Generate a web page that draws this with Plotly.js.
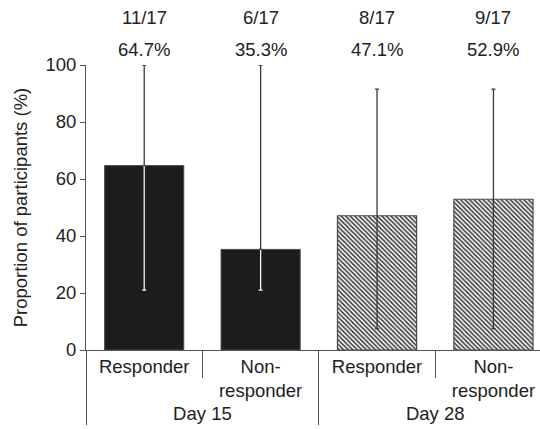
<!DOCTYPE html>
<html>
<head>
<meta charset="utf-8">
<script src="https://cdn.plot.ly/plotly-3.0.1.min.js"></script>
<style>html,body{margin:0;padding:0;background:#fff;}#chart{width:540px;height:429px;}</style>
</head>
<body>
<div id="chart"></div>
<script>
// ---- data ----
var groups = ['Day 15', 'Day 15', 'Day 28', 'Day 28'];
var categories = ['Responder', 'Non-<br>responder', 'Responder', 'Non-<br>responder'];
var percentages = [64.7, 35.3, 47.1, 52.9];
var ciUpper = [100, 100, 91.5, 91.5];
var ciLower = [21, 21, 7.5, 7.5];
var counts = ['11/17', '6/17', '8/17', '9/17'];
var percentLabels = ['64.7%', '35.3%', '47.1%', '52.9%'];
var isDay28 = [false, false, true, true];

var FONT = 'Liberation Sans, Arial, Helvetica, sans-serif';
var FS = 18.5;
var TXT = '#222';
var AX = '#555';

function pick(arr, want) {
  var out = [];
  arr.forEach(function (v, i) { if (isDay28[i] === want) out.push(v); });
  return out;
}

var day15Bars = {
  type: 'bar', x: [pick(groups, false), pick(categories, false)], y: pick(percentages, false),
  marker: {color: '#1c1c1c', line: {color: '#4a4a4a', width: 1}},
  hoverinfo: 'skip', showlegend: false
};
var day28Bars = {
  type: 'bar', x: [pick(groups, true), pick(categories, true)], y: pick(percentages, true),
  marker: {
    color: '#ffffff', line: {color: '#4a4a4a', width: 1.2},
    pattern: {shape: '\\', fgcolor: '#3c3c3c', bgcolor: '#ffffff', size: 3.2, solidity: 0.5}
  },
  hoverinfo: 'skip', showlegend: false
};

var x = [groups, categories];

// part of the interval inside dark bars (white)
var errInside = {
  type: 'scatter', mode: 'markers', x: [pick(groups, false), pick(categories, false)],
  y: pick(percentages, false),
  marker: {size: 0.1, color: 'rgba(0,0,0,0)'},
  error_y: {
    type: 'data', symmetric: false,
    array: pick(percentages, false).map(function () { return 0; }),
    arrayminus: pick(percentages, false).map(function (v, i) { return v - pick(ciLower, false)[i]; }),
    color: '#f4f4f4', thickness: 1.3, width: 2
  },
  hoverinfo: 'skip', showlegend: false, cliponaxis: false
};

// dark part of the interval
var errDark = {
  type: 'scatter', mode: 'markers', x: x, y: percentages,
  marker: {size: 0.1, color: 'rgba(0,0,0,0)'},
  error_y: {
    type: 'data', symmetric: false,
    array: percentages.map(function (v, i) { return ciUpper[i] - v; }),
    arrayminus: percentages.map(function (v, i) { return isDay28[i] ? v - ciLower[i] : 0; }),
    color: '#3a3a3a', thickness: 1.3, width: 2
  },
  hoverinfo: 'skip', showlegend: false, cliponaxis: false
};

var annotations = [];
counts.forEach(function (c, i) {
  annotations.push({xref: 'x', yref: 'paper', x: i, y: 1.165, text: c, showarrow: false,
    xanchor: 'center', yanchor: 'middle', font: {family: FONT, size: FS, color: TXT}});
  annotations.push({xref: 'x', yref: 'paper', x: i, y: 1.053, text: percentLabels[i], showarrow: false,
    xanchor: 'center', yanchor: 'middle', font: {family: FONT, size: FS, color: TXT}});
});

var layout = {
  width: 540, height: 429,
  margin: {l: 86, r: 0, t: 65, b: 79, pad: 0},
  paper_bgcolor: '#fff', plot_bgcolor: '#fff',
  font: {family: FONT, size: FS, color: TXT},
  bargap: 0.32, barmode: 'overlay',
  showlegend: false,
  annotations: annotations,
  xaxis: {
    type: 'multicategory', range: [-0.5, 3.4],
    showline: true, linecolor: AX, linewidth: 1,
    ticks: 'outside', tickson: 'boundaries', ticklen: 27, tickcolor: AX, tickwidth: 1,
    showdividers: true, dividercolor: AX, dividerwidth: 1,
    tickfont: {family: FONT, size: FS, color: TXT},
    showgrid: false, zeroline: false, fixedrange: true
  },
  yaxis: {
    range: [0, 100], dtick: 20, tick0: 0,
    showline: true, linecolor: AX, linewidth: 1,
    ticks: 'outside', ticklen: 5, tickcolor: AX, tickwidth: 1,
    tickfont: {family: FONT, size: FS, color: TXT},
    showgrid: false, zeroline: false, fixedrange: true,
    title: {text: 'Proportion of participants (%)', font: {family: FONT, size: FS, color: TXT}, standoff: 12}
  }
};

Plotly.newPlot('chart', [day15Bars, day28Bars, errInside, errDark], layout, {displayModeBar: false, staticPlot: true});
</script>
</body>
</html>
